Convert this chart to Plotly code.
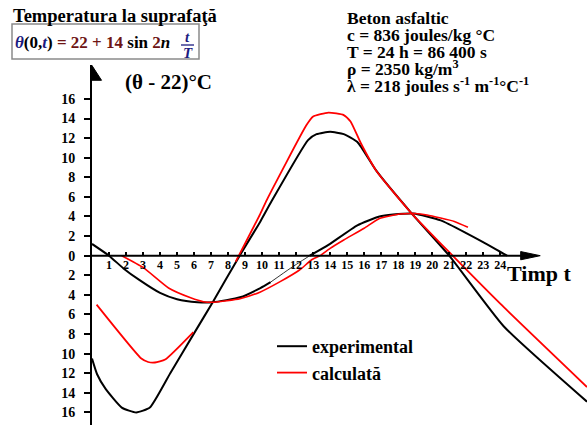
import plotly.graph_objects as go

# ---------------- data ----------------
exp_surface_t = [0.0, 0.3, 0.8, 1.75, 2.6, 3.4, 4.6, 6.06, 7.08, 8.68, 9.9, 10.57,
                 12.7, 13.2, 14.0, 14.8, 15.6, 16.7, 18.8, 21.0, 24.2, 29.1]
exp_surface_y = [-10.5, -12.1, -13.6, -15.5, -16.0, -15.5, -12.0, -7.75, -4.8, 0.0, 3.5, 5.6,
                 11.8, 12.4, 12.65, 12.4, 11.6, 8.7, 4.3, 0.0, -7.2, -14.9]

calc_surface_t1 = [0.27, 2.9, 3.3, 3.7, 4.3, 5.96]
calc_surface_y1 = [-5.0, -10.5, -10.85, -10.9, -10.6, -7.8]
calc_surface_t2 = [8.45, 9.9, 10.28, 12.6, 13.0, 13.9, 14.8, 15.2, 15.8, 16.7, 18.8, 21.2, 24.0, 29.1]
calc_surface_y2 = [-0.6, 4.3, 5.7, 13.3, 14.2, 14.6, 14.35, 13.7, 11.5, 8.7, 4.3, 0.0, -4.9, -13.4]

exp_depth_t1 = [0.0, 1.0, 1.85, 2.8, 4.0, 5.0, 6.2, 7.1, 8.7, 9.9, 10.5]
exp_depth_y1 = [1.2, 0.0, -1.3, -2.5, -3.8, -4.45, -4.75, -4.75, -4.25, -3.3, -2.7]
exp_depth_t2 = [10.5, 11.65, 12.8]
exp_depth_y2 = [-2.7, -1.3, 0.0]
exp_depth_t3 = [12.8, 13.9, 15.6, 16.9, 17.7, 18.9, 20.5, 22.0, 23.8, 24.4]
exp_depth_y3 = [0.0, 1.1, 3.1, 4.0, 4.2, 4.3, 3.6, 2.3, 0.6, 0.0]

calc_depth_t = [1.75, 3.0, 4.5, 5.8, 6.55, 7.2, 8.7, 9.9, 11.06, 12.2, 12.9, 13.4, 14.0,
                14.8, 16.0, 16.9, 18.1, 19.0, 19.7, 21.3, 22.1]
calc_depth_y = [0.0, -1.2, -3.3, -4.3, -4.7, -4.75, -4.4, -3.7, -2.65, -1.46, -0.44, 0.0, 0.75,
                1.6, 2.8, 3.8, 4.25, 4.3, 4.15, 3.5, 2.9]

x_ticks = list(range(1, 25))
y_ticks = list(range(-16, 17, 2))
y_tick_text = [str(abs(v)) for v in y_ticks]

# ---------------- layout geometry ----------------
W, H = 587, 425
ML, MT = 92, 65
X_RANGE = [0, 29.1]
Y_RANGE = [-17.28, 19.46]
PW, PH = W - ML, H - MT


def px(x):
    return (x - ML) / PW


def py(y):
    return (H - y) / PH


SERIF = "Liberation Serif"
BLACK = "#000000"
RED = "#ff0000"

fig = go.Figure()


def add(t, y, color, width, name=None, show=False, rank=None):
    fig.add_trace(go.Scatter(
        x=t, y=y, mode="lines",
        line=dict(color=color, width=width, shape="spline", smoothing=0.5),
        name=name, showlegend=show, legendrank=rank if rank else 1000,
        hoverinfo="skip"))


add(exp_surface_t, exp_surface_y, BLACK, 2, "experimental", True, 1)
add(exp_depth_t1, exp_depth_y1, BLACK, 2)
add(exp_depth_t2, exp_depth_y2, BLACK, 0.8)
add(exp_depth_t3, exp_depth_y3, BLACK, 2)
add(calc_surface_t1, calc_surface_y1, RED, 1.8, "calculată", True, 2)
add(calc_surface_t2, calc_surface_y2, RED, 1.8)
add(calc_depth_t, calc_depth_y, RED, 1.6)

y0_pos = (0 - Y_RANGE[0]) / (Y_RANGE[1] - Y_RANGE[0])

shapes = [
    dict(type="line", xref="x", yref="y", x0=0, x1=25.4, y0=0, y1=0,
         line=dict(color=BLACK, width=2)),
    dict(type="path", xref="x", yref="y",
         path="M 25.2,0.42 L 26.35,0 L 25.2,-0.42 Z",
         fillcolor=BLACK, line=dict(color=BLACK, width=1)),
    dict(type="path", xref="x", yref="y",
         path="M -0.56,17.9 L 0,19.4 L 0.56,17.9 Z",
         fillcolor=BLACK, line=dict(color=BLACK, width=1)),
    dict(type="rect", xref="paper", yref="paper",
         x0=px(12), x1=px(199), y0=py(59), y1=py(24),
         line=dict(color="#8a8a8a", width=1.5), fillcolor="rgba(0,0,0,0)"),
    dict(type="line", xref="paper", yref="paper",
         x0=px(181), x1=px(194), y0=py(45), y1=py(45),
         line=dict(color="#1c1c80", width=1.3)),
]

NAVY = "#1c1c80"
MAROON = "#6e1414"


def ann(x, y, text, size, xanchor="left", color=BLACK, bold=True):
    return dict(xref="paper", yref="paper", x=px(x), y=py(y), text=text,
                showarrow=False, xanchor=xanchor, yanchor="middle",
                font=dict(family=SERIF, size=size, color=color,
                          weight="bold" if bold else "normal"))


formula = (f'<span style="color:{NAVY}"><i>θ</i></span>(0,'
           f'<span style="color:{NAVY}"><i>t</i></span>)'
           f'<span style="color:{MAROON}"> = 22 + 14 </span>sin'
           f'<span style="color:{MAROON}"> 2</span><i>n</i>')

annotations = [
    ann(11, 16, "Temperatura la suprafaţă", 18.5),
    ann(13, 42, formula, 17),
    ann(187.5, 37, '<i>t</i>', 15, "center", NAVY),
    ann(187.5, 53, '<i>T</i>', 15, "center", NAVY),
    ann(123, 82, "(θ - 22)°C", 21),
    ann(345, 18, "Beton asfaltic", 17.5),
    ann(345, 35, "c = 836 joules/kg °C", 17.5),
    ann(345, 52, "T = 24 h = 86 400 s", 17.5),
    ann(345, 68, "ρ = 2350 kg/m<sup>3</sup>", 17.5),
    ann(345, 85, "λ = 218 joules s<sup>-1</sup> m<sup>-1</sup>°C<sup>-1</sup>", 17.5),
    ann(505, 273, "Timp t", 22),
]

fig.update_layout(
    width=W, height=H,
    margin=dict(l=ML, r=0, t=MT, b=0, pad=0),
    paper_bgcolor="white", plot_bgcolor="white",
    showlegend=True,
    legend=dict(x=px(272), y=py(328), xanchor="left", yanchor="top",
                bgcolor="rgba(0,0,0,0)", borderwidth=0,
                font=dict(family=SERIF, size=18, color=BLACK, weight="bold"),
                itemwidth=30, tracegroupgap=1),
    xaxis=dict(range=X_RANGE, showgrid=False, zeroline=False, showline=False,
               anchor="free", position=y0_pos,
               tickmode="array", tickvals=x_ticks, ticktext=[str(v) for v in x_ticks],
               ticks="inside", ticklen=4, tickwidth=1.5, tickcolor=BLACK,
               tickfont=dict(family=SERIF, size=12, color=BLACK, weight="bold")),
    yaxis=dict(range=Y_RANGE, showgrid=False, zeroline=False,
               showline=True, linecolor=BLACK, linewidth=2,
               tickmode="array", tickvals=y_ticks, ticktext=y_tick_text,
               ticks="outside", ticklen=6, tickwidth=1.5, tickcolor=BLACK,
               ticklabelstandoff=6,
               tickfont=dict(family=SERIF, size=14, color=BLACK, weight="bold")),
    shapes=shapes,
    annotations=annotations,
)

fig.write_html("out.html")
